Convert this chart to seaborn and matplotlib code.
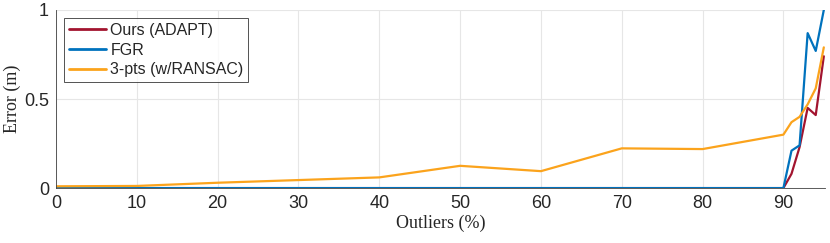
import pandas as pd
import matplotlib.pyplot as plt
import seaborn as sns

# outlier ratio (%)
outliers = [0, 10, 20, 30, 40, 50, 60, 70, 80, 90, 91, 92, 93, 94, 95]

# translation error (m)
ours_err = [0, 0, 0, 0, 0, 0, 0, 0, 0, 0, 0.08, 0.23, 0.45, 0.41, 0.74]
fgr_err = [0, 0, 0, 0, 0, 0, 0, 0, 0, 0, 0.21, 0.24, 0.87, 0.77, 1.0]
ransac_err = [0.01, 0.012, 0.03, 0.045, 0.06, 0.125, 0.095, 0.223, 0.219,
              0.30, 0.37, 0.40, 0.47, 0.56, 0.79]

labels = ['Ours (ADAPT)', 'FGR', '3-pts (w/RANSAC)']
colors = ['#A2142F', '#0072BD', '#FBA31C']

df = pd.DataFrame({
    'Outliers': outliers * 3,
    'Error': ours_err + fgr_err + ransac_err,
    'Method': [labels[0]] * len(outliers) + [labels[1]] * len(outliers) + [labels[2]] * len(outliers),
})

sns.set_style('white')
plt.rcParams['font.family'] = ['Liberation Sans', 'DejaVu Sans']

fig = plt.figure(figsize=(8.3, 2.43), dpi=100)
ax = fig.add_axes([0.0675, 0.226, 0.927, 0.733])

sns.lineplot(data=df, x='Outliers', y='Error', hue='Method', hue_order=labels,
             palette=colors, linewidth=1.6, ax=ax)

ax.set_xlim(0, 95.2)
ax.set_ylim(0, 1)
ax.set_xticks(range(0, 91, 10))
ax.set_yticks([0, 0.5, 1])
ax.set_yticklabels(['0', '0.5', '1'])
ax.grid(True, color='#e6e6e6', linewidth=0.8)
ax.set_axisbelow(True)
ax.tick_params(direction='in', length=4, width=0.6, color='#404040',
               labelsize=13, labelcolor='#262626', pad=5)

for side in ['top', 'right']:
    ax.spines[side].set_visible(False)
for side in ['left', 'bottom']:
    ax.spines[side].set_color('#404040')
    ax.spines[side].set_linewidth(0.6)

ax.set_xlabel('Outliers (%)', family='Liberation Serif', fontsize=13, color='#262626', labelpad=2)
ax.set_ylabel('Error (m)', family='Liberation Serif', fontsize=13, color='#262626', labelpad=2)

leg = ax.legend(loc='upper left', fontsize=11.5, frameon=True, fancybox=False,
                edgecolor='#262626', borderaxespad=0.5, handlelength=2.3,
                borderpad=0.3, labelspacing=0.3, handletextpad=0.3)
leg.get_frame().set_linewidth(0.7)
for line in leg.get_lines():
    line.set_linewidth(2)

fig.savefig('out.png', dpi=100)
